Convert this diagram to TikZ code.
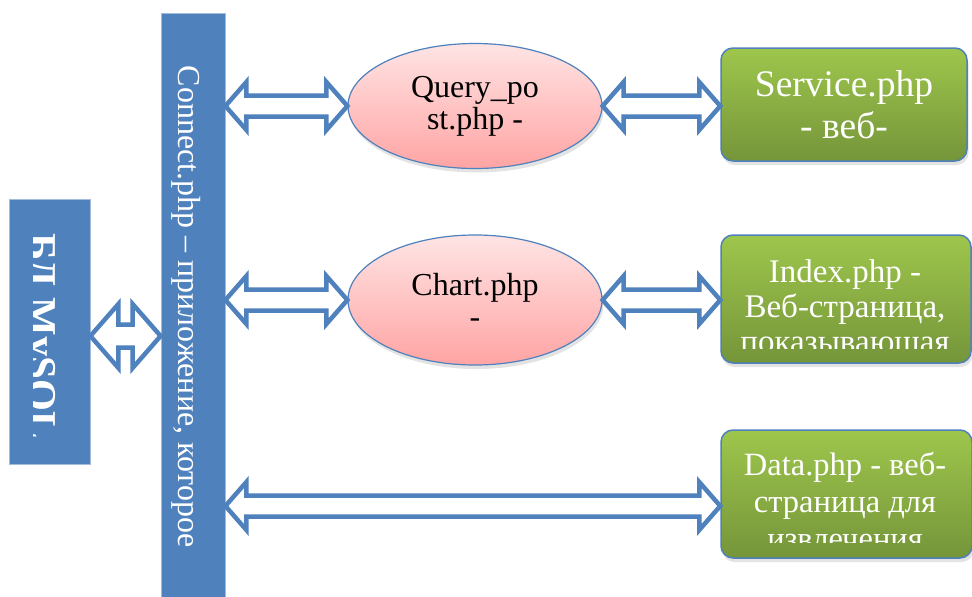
\documentclass[tikz,border=0pt]{standalone}
\usepackage{fontspec}
\setmainfont{Liberation Serif}
\usetikzlibrary{calc,shapes.geometric,shadows}

\definecolor{barblue}{HTML}{4F81BD}
\definecolor{baredge}{HTML}{A3BCDD}
\definecolor{pinktop}{HTML}{FFE4E4}
\definecolor{pinkbot}{HTML}{FFA4A4}
\definecolor{greentop}{HTML}{9EC64C}
\definecolor{greenbot}{HTML}{75953A}

\tikzset{
  bluebar/.style={rectangle, draw=baredge, line width=0.8pt, fill=barblue, inner sep=0pt},
  fileoval/.style={ellipse, draw=barblue, line width=1.2pt, top color=pinktop, bottom color=pinkbot,
    inner sep=0pt, align=center, font=\fontsize{32}{32}\selectfont,
    drop shadow={opacity=0.22, shadow xshift=1.5pt, shadow yshift=-4pt}},
  pagebox/.style={rectangle, rounded corners=12pt, draw=barblue, line width=1.5pt,
    top color=greentop, bottom color=greenbot, inner sep=0pt,
    drop shadow={opacity=0.22, shadow xshift=1.5pt, shadow yshift=-4pt}},
  pagetext/.style={text=white, align=center, inner sep=0pt},
  blockarrow/.style={draw=barblue, fill=white, line width=4.5pt, line join=miter},
}

% double-headed block arrow between two points on one horizontal line
% #1 from, #2 to, #3 head length, #4 head half-height, #5 shaft half-height
\newcommand\dblarrow[5]{%
  \draw[blockarrow] let \p1=(#1), \p2=(#2) in
    (\x1,\y1) -- (\x1+#3,\y1+#4) -- (\x1+#3,\y1+#5) -- (\x2-#3,\y1+#5)
    -- (\x2-#3,\y1+#4) -- (\x2,\y1) -- (\x2-#3,\y1-#4) -- (\x2-#3,\y1-#5)
    -- (\x1+#3,\y1-#5) -- (\x1+#3,\y1-#4) -- cycle;}

\begin{document}
\begin{tikzpicture}[x=1pt,y=-1pt]
\useasboundingbox[fill=white] (0,0) rectangle (972,597);

% database block with its clipped caption
\node[bluebar, minimum width=81pt, minimum height=265pt] (db) at (49.5,331.5) {};
\begin{scope}
  \clip (33,200) rectangle (89,463);
  \node[rotate=-90, anchor=base, text=white, inner sep=0pt,
        font=\bfseries\fontsize{41}{44}\selectfont] (dbtext) at (28,336) {БД MySQL};
\end{scope}

% connection layer
\node[bluebar, minimum width=64pt, minimum height=594pt] (bar) at (193,310) {};
\node[rotate=-90, anchor=base, text=white, inner sep=0pt,
      font=\fontsize{32}{38}\selectfont] (bartext) at (178,307)
      {Connect.php – приложение, которое};

% scripts
\node[fileoval, minimum width=254pt, minimum height=125pt] (e1) at (475,106) {Query\_po\\st.php -};
\node[fileoval, minimum width=254pt, minimum height=130pt] (e2) at (475,300) {Chart.php\\-};

% pages
\node[pagebox, minimum width=246pt, minimum height=113pt, pagetext,
      font=\fontsize{37.5}{42}\selectfont] (svc) at (844,104.5) {Service.php\\- веб-};

\node[pagebox, minimum width=250pt, minimum height=128pt] (idx) at (846,299) {};
\begin{scope}
  \clip (idx.north west) rectangle ($(idx.south east)+(0,-15)$);
  \node[pagetext, font=\fontsize{33}{35}\selectfont] (idxtext) at (845,309)
        {Index.php -\\Веб-страница,\\показывающая};
\end{scope}

\node[pagebox, minimum width=251pt, minimum height=128pt] (data) at (846.5,494) {};
\begin{scope}
  \clip (data.north west) rectangle ($(data.south east)+(0,-16)$);
  \node[pagetext, font=\fontsize{32.5}{37}\selectfont] (datatext) at (845,501)
        {Data.php - веб-\\страница для\\извлечения};
\end{scope}

% connectors
\coordinate (dbOut) at ($(db.east)+(0,4.5)$);
\coordinate (dataIn) at ($(data.west)+(0,12)$);
\dblarrow{dbOut}{dbOut -| bar.west}{28pt}{32pt}{11.5pt}
\dblarrow{bar.east |- e1.west}{e1.west}{21pt}{24pt}{10.5pt}
\dblarrow{e1.east}{e1.east -| svc.west}{21pt}{24pt}{10.5pt}
\dblarrow{bar.east |- e2.west}{e2.west}{21pt}{24pt}{10.5pt}
\dblarrow{e2.east}{e2.east -| idx.west}{21pt}{24pt}{10.5pt}
\dblarrow{bar.east |- dataIn}{dataIn}{21pt}{24pt}{10.5pt}
\end{tikzpicture}
\end{document}
